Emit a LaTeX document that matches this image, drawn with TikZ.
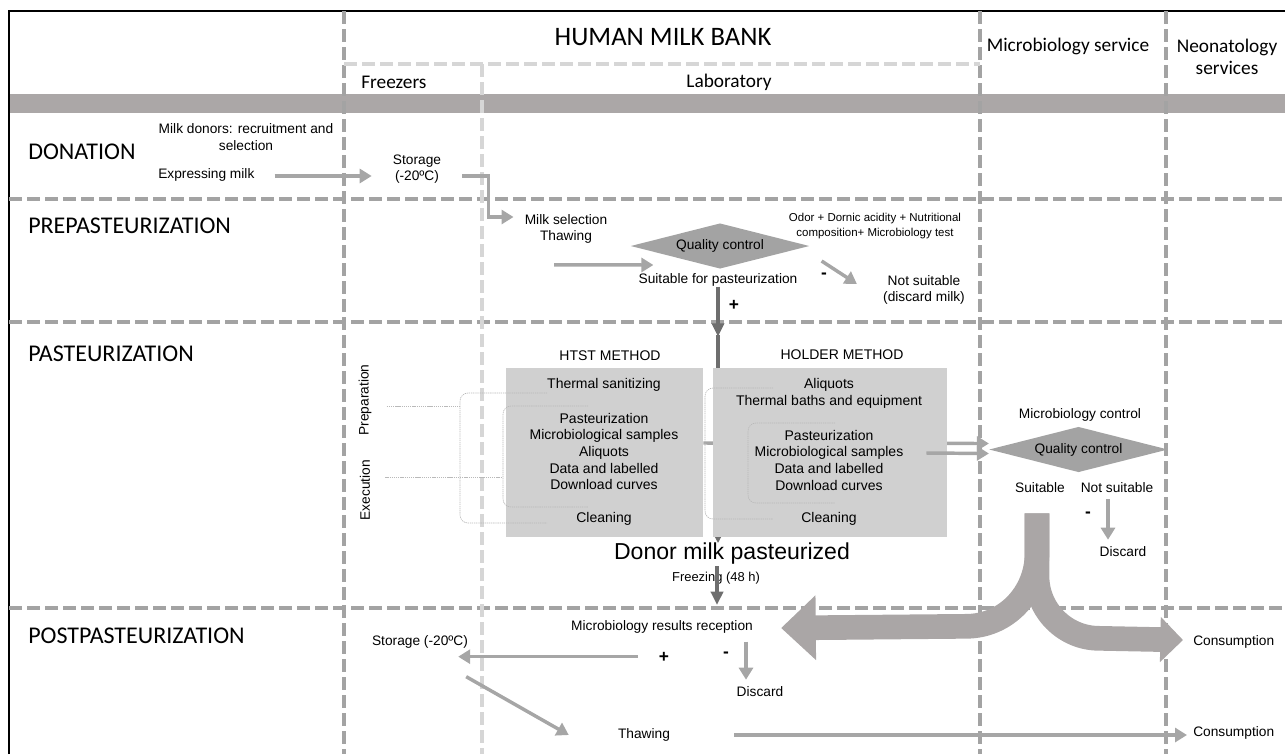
\documentclass[tikz,border=0pt]{standalone}
\usepackage{fontspec}
\setmainfont{Liberation Sans}
\newfontfamily\calib{Carlito}
\usepackage{xcolor}
\usepackage{tikz}
\usetikzlibrary{arrows.meta}
\usetikzlibrary{shapes.geometric}
\usetikzlibrary{calc}
\definecolor{lanegray}{HTML}{A3A3A3}
\definecolor{lightlane}{HTML}{D6D6D6}
\definecolor{bandgray}{HTML}{ABA7A7}
\definecolor{boxgray}{HTML}{D0D0D0}
\definecolor{flowgray}{HTML}{A6A6A6}
\definecolor{darkflow}{HTML}{6E6E6E}
\definecolor{bigflow}{HTML}{AAA6A6}

\begin{document}
\begin{tikzpicture}[x=0.75pt,y=-0.75pt,
    lane/.style={lanegray,line width=2.7pt,dash pattern=on 10pt off 3.5pt},
    sublane/.style={lightlane,line width=2.5pt,dash pattern=on 10pt off 3.5pt},
    head/.style={font=\calib\fontsize{18}{21}\selectfont,anchor=west,inner sep=0pt},
    col/.style={font=\calib\fontsize{14.5}{16.5}\selectfont,align=center,inner sep=0pt},
    txt/.style={font=\fontsize{10.3}{12.2}\selectfont,align=center,inner sep=0pt},
    boxtxt/.style={font=\fontsize{10.5}{12.5}\selectfont,align=center,inner sep=0pt},
    small/.style={font=\fontsize{8.6}{11.2}\selectfont,align=center,inner sep=0pt},
    sign/.style={font=\fontsize{13}{13}\selectfont\bfseries,inner sep=0pt},
    qbox/.style={diamond,fill=lanegray,inner sep=0pt,aspect=4,minimum width=134pt,
      minimum height=34pt,font=\fontsize{10.3}{12}\selectfont},
    method/.style={fill=boxgray,inner sep=0pt,minimum height=126.75pt},
    flow/.style={flowgray,line width=2.6pt,-{Triangle[length=9pt,width=10.5pt]}},
    dflow/.style={darkflow,line width=2.8pt,-{Triangle[length=10pt,width=9pt]}},
    bracket/.style={gray!55,line width=0.5pt,dash pattern=on 1pt off 0.6pt,rounded corners=6pt},
    bigarrow/.style={bigflow,line width=18.5pt}
  ]
  \useasboundingbox (0,0) rectangle (1285,754);
  \fill[bandgray] (9,94) rectangle (1285,113);
  \draw[black,line width=2.2pt] (9,754) -- (9,11) -- (1285,11);
  \draw[lane] (344,11) -- (344,754);
  \draw[lane] (980,11) -- (980,754);
  \draw[lane] (1166,11) -- (1166,754);
  \foreach \y in {199,322,608}
    \draw[lane] (9,\y) -- (1285,\y);
  \draw[sublane] (344,64) -- (980,64);
  \draw[sublane] (482,64) -- (482,754);

  \node[col,font=\calib\fontsize{20}{24}\selectfont] (bank) at (663,37) {HUMAN MILK BANK};
  \node[col,anchor=west] (freez) at (361,82) {Freezers};
  \node[col] (lab) at (729,82) {Laboratory};
  \node[col] (micro) at (1068,46) {Microbiology service};
  \node[col] (neo) at (1227,57) {Neonatology\\services};

  \node[head] (don) at (28,152) {DONATION};
  \node[head] (pre) at (28,226) {PREPASTEURIZATION};
  \node[head] (pas) at (28,354) {PASTEURIZATION};
  \node[head] (post) at (28,636) {POSTPASTEURIZATION};

  \node[txt] (donors) at (246,137) {Milk donors: recruitment and\\selection};
  \node[txt,anchor=west] (expr) at (158,175) {Expressing milk};
  \node[txt] (stor1) at (417,169) {Storage\\(-20ºC)};
  \node[txt] (milksel) at (566,229) {Milk selection\\Thawing};
  \node[qbox] (qc1) at (720,246) {Quality control};
  \node[small] (odor) at (875,226) {Odor + Dornic acidity + Nutritional\\composition+ Microbiology test};
  \node[txt] (suitp) at (718,280) {Suitable for pasteurization};
  \node[txt] (notsuit1) at (924,290) {Not suitable\\(discard milk)};
  \node[sign] (minus1) at (824,276) {-};
  \node[sign] (plus1) at (734,305) {+};

  \node[txt] (mbctl) at (1080,415) {Microbiology control};
  \node[qbox] (qc2) at (1078.5,449.5) {Quality control};
  \node[txt] (suit2) at (1040,488) {Suitable};
  \node[txt] (notsuit2) at (1117,488) {Not suitable};
  \node[sign] (minus2) at (1088,515) {-};
  \node[txt] (discard2) at (1123,552) {Discard};
  \node[inner sep=0pt,font=\fontsize{17.3}{20}\selectfont] (donor) at (732,554) {Donor milk pasteurized};
  \node[txt,font=\fontsize{9.7}{11}\selectfont] (frz) at (716,578) {Freezing (48 h)};

  \node[txt] (reception) at (662,627) {Microbiology results reception};
  \node[txt] (stor2) at (420,642) {Storage (-20ºC)};
  \node[sign] (plus2) at (664,657) {+};
  \node[sign] (minus3) at (726,655) {-};
  \node[txt] (discard3) at (760,692) {Discard};
  \node[txt] (thaw2) at (644,735) {Thawing};
  \node[txt,anchor=west] (cons1) at (1193,642) {Consumption};
  \node[txt,anchor=west] (cons2) at (1193,733) {Consumption};

  \node[method,minimum width=147.75pt] (htst) at (604.5,452.5) {};
  \draw[flow] ($(htst.east)+(0,-9.5)$) -- ($(qc2.west)+(0,-6)$);
  \draw[darkflow,line width=1.2pt,-{Triangle[length=6pt,width=6pt]}] ($(suitp.south)+(0,50)$) -- (suitp.south |- donor.north);
  \node[method,minimum width=175.5pt] (holder) at (830,452.5) {};

  \node[boxtxt] (htstlbl) at (610,356) {HTST METHOD};
  \node[boxtxt] (holdlbl) at (842,355) {HOLDER METHOD};
  \node[boxtxt] (hsan) at (604,385) {Thermal sanitizing};
  \node[boxtxt] (hrun) at (604,451.5) {Pasteurization\\Microbiological samples\\Aliquots\\Data and labelled\\Download curves};
  \node[boxtxt] (hcln) at (604,519) {Cleaning};
  \node[boxtxt] (oprep) at (829,393.5) {Aliquots\\Thermal baths and equipment};
  \node[boxtxt] (orun) at (829,460) {Pasteurization\\Microbiological samples\\Data and labelled\\Download curves};
  \node[boxtxt] (ocln) at (829,519) {Cleaning};

  \node[txt,rotate=90] (prep) at (365,400) {Preparation};
  \node[txt,rotate=90] (exec) at (365,490) {Execution};
  \draw[bracket] ($(prep.south)+(15,6)$) -- ++(73,0);
  \draw[bracket] ($(exec.south)+(15,-13)$) -- ++(116,0);
  \draw[bracket] (547,393) -- (460,393) -- (460,523) -- (547,523);
  \draw[bracket] (588,406) -- (503,406) -- (503,507) -- (588,507);
  \draw[bracket] (773,388) -- (705,388) -- (705,519) -- (773,519);
  \draw[bracket] (835,423) -- (748,423) -- (748,503) -- (835,503);

  \draw[flow] ($(expr.east)+(20,1)$) -- ($(stor1.west)+(-21,7)$);
  \draw[flow] ($(stor1.east)+(21,7)$) -- ++(26,0) |- ($(milksel.west)+(-11,-12)$);
  \draw[flow] ($(milksel.south)+(-12,21)$) -- ($(qc1.west)+(23,19)$);
  \draw[flow] ($(qc1.east)+(12,15)$) -- ($(notsuit1.west)+(-26,-6)$);
  \draw[dflow] (suitp.south) -- ++(0,50);
  \draw[darkflow,line width=2.8pt] ($(suitp.south)+(0,48)$) -- (suitp.south |- holder.north);
  \draw[flow] ($(holder.east)+(-21,0.5)$) -- ($(qc2.west)+(0,4)$);
  \draw[flow] ($(notsuit2.south)+(-9,6)$) -- ($(discard2.north)+(-15,-7)$);
  \draw[dflow] ($(donor.south)+(-15,1)$) -- ++(0,39);
  \draw[flow] ($(reception.south)+(-24,23)$) -- ($(stor2.south east)+(-10,8)$);
  \draw[flow] ($(reception.south)+(84,8)$) -- ($(discard3.north)+(-14,-7)$);
  \draw[flow] ($(stor2.south east)+(-2,28)$) -- ($(thaw2.west)+(-49,0)$);
  \draw[flow] ($(thaw2.east)+(64,0)$) -- ($(cons2.west)+(-6,2)$);

  \coordinate (trunk) at ($(suit2.south)+(-3,20)$);
  \draw[bigarrow,-{Triangle[length=26pt,width=47pt]}] (trunk) -- ++(0,40)
    .. controls +(0,40) and +(40,0) .. ++(-71,73) -- ($(reception.east)+(28,1)$);
  \draw[bigarrow,-{Triangle[length=17pt,width=33pt]}] (trunk) -- ++(0,63)
    .. controls +(0,34) and +(-34,0) .. ++(62,62) -- ($(cons1.west)+(-10,-2)$);
\end{tikzpicture}
\end{document}
